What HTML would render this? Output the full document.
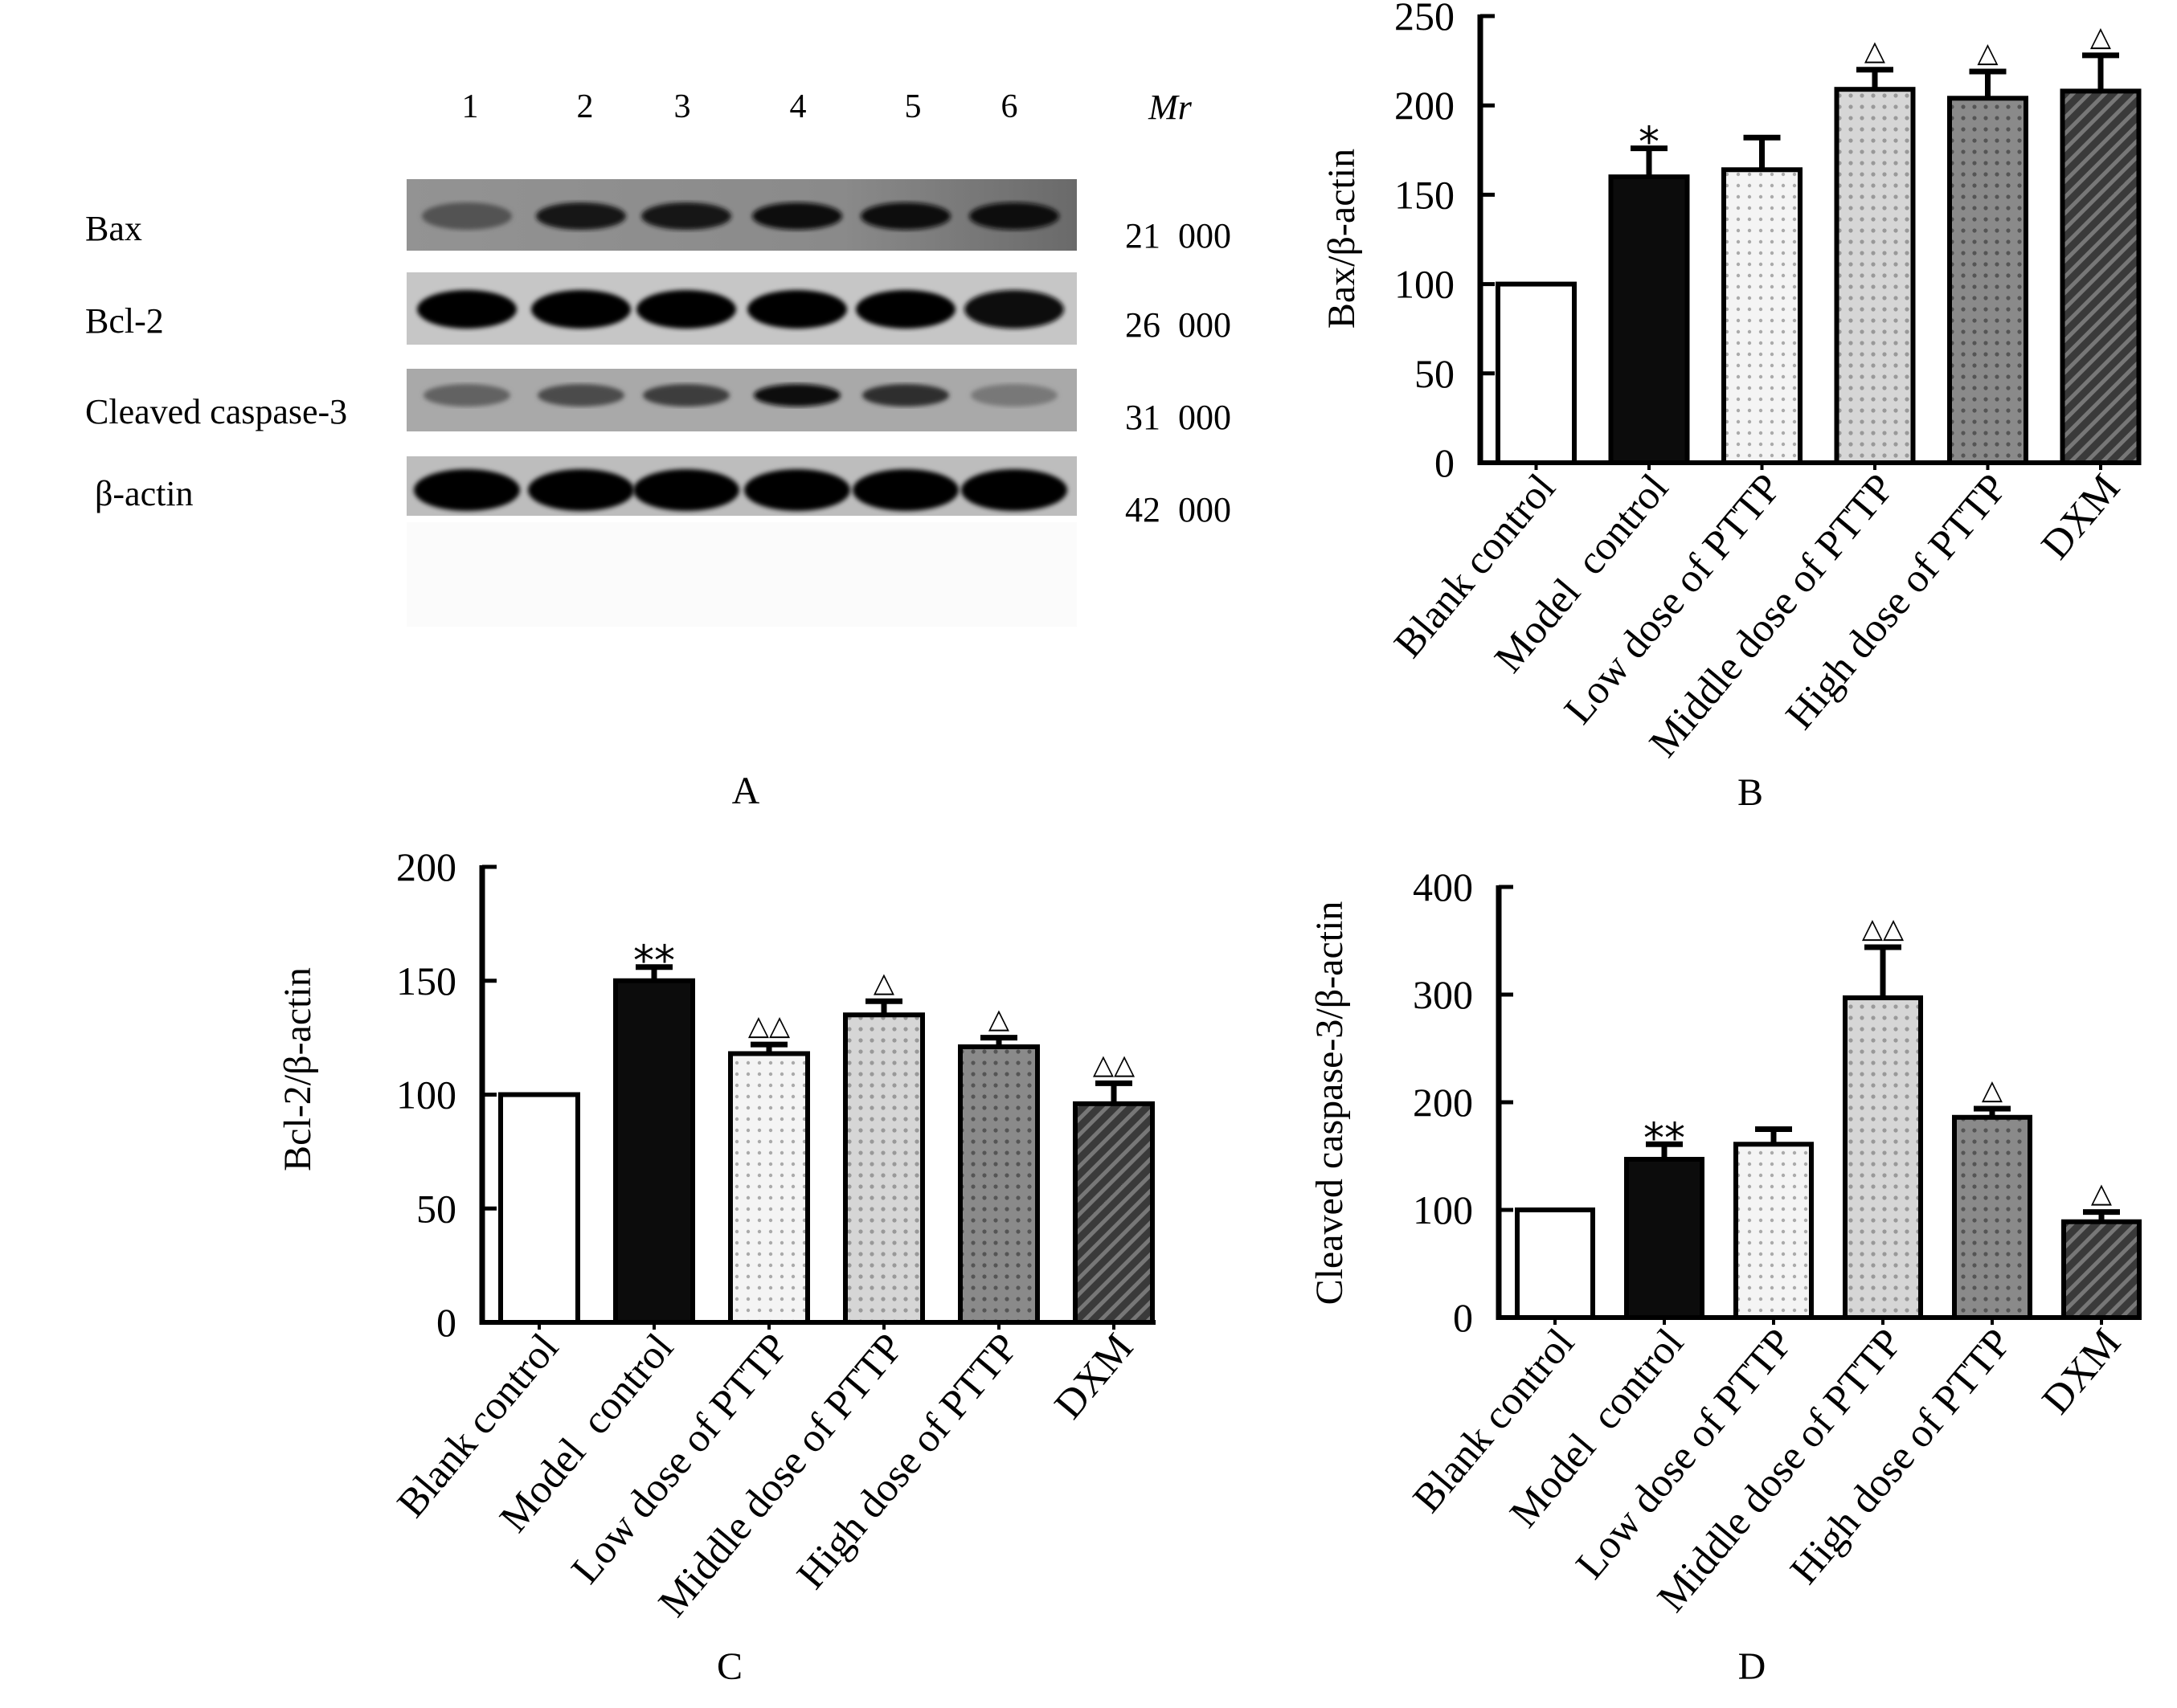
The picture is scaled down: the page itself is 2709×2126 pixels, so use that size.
<!DOCTYPE html>
<html><head><meta charset="utf-8"><style>
html,body{margin:0;padding:0;background:#fff;}
svg{display:block;font-family:"Liberation Serif",serif;}
</style></head><body>
<svg id="fig" width="2709" height="2126" viewBox="0 0 2709 2126" xmlns="http://www.w3.org/2000/svg">
<defs>
<pattern id="pLow" width="14" height="14" patternUnits="userSpaceOnUse"><rect width="14" height="14" fill="#f4f4f4"/><circle cx="7" cy="7" r="2.2" fill="#aaa"/></pattern>
<pattern id="pMid" width="14" height="14" patternUnits="userSpaceOnUse"><rect width="14" height="14" fill="#d6d6d6"/><circle cx="7" cy="7" r="2.6" fill="#999"/></pattern>
<pattern id="pHigh" width="14" height="14" patternUnits="userSpaceOnUse"><rect width="14" height="14" fill="#8a8a8a"/><circle cx="7" cy="7" r="2.6" fill="#555"/></pattern>
<pattern id="pDxm" width="14" height="14" patternUnits="userSpaceOnUse" patternTransform="rotate(45)"><rect width="14" height="14" fill="#3a3a3a"/><rect width="5" height="14" fill="#777"/></pattern>
<linearGradient id="baxBg" x1="0" x2="1" y1="0" y2="0"><stop offset="0" stop-color="#939393"/><stop offset="0.65" stop-color="#8a8a8a"/><stop offset="1" stop-color="#6a6a6a"/></linearGradient>
<filter id="blur2"><feGaussianBlur stdDeviation="3"/></filter>
</defs>
<g id="panelA"></g>
<g id="chartB"></g>
<g id="chartC"></g>
<g id="chartD"></g>
</svg>
<script>
const NS='http://www.w3.org/2000/svg';
const categories=['Blank control','Model  control','Low dose of PTTP','Middle dose of PTTP','High dose of PTTP','DXM'];
const fills=['#fff','#0c0c0c','url(#pLow)','url(#pMid)','url(#pHigh)','url(#pDxm)'];
const baxValues=[100,160,164,209,204,208];
const baxErrTop=[100,176,182,220,219,228];
const baxMarks=['','*','','△','△','△'];
const baxTicks=[0,50,100,150,200,250];
const bclValues=[100,150,118,135,121,96];
const bclErrTop=[100,156,122,141,125,105];
const bclMarks=['','**','△△','△','△','△△'];
const bclTicks=[0,50,100,150,200];
const casValues=[100,147,161,297,186,89];
const casErrTop=[100,161,175,344,194,98];
const casMarks=['','**','','△△','△','△'];
const casTicks=[0,100,200,300,400];
const laneLabels=['1','2','3','4','5','6'];
const mwLabels=['21  000','26  000','31  000','42  000'];
const proteinLabels=['Bax','Bcl-2','Cleaved caspase-3','β-actin'];
const baxBands=[0.45,0.85,0.85,0.9,0.95,0.95];
const bclBands=[1,1,1,1,1,0.9];
const casBands=[0.35,0.5,0.6,0.95,0.7,0.2];
const actBands=[1,1,1,1,1,1];

function mk(tag,attrs,parent,text){const e=document.createElementNS(NS,tag);for(const k in attrs)e.setAttribute(k,attrs[k]);if(text!==undefined)e.textContent=text;parent.appendChild(e);return e;}

function chart(gid,cfg){
  const g=document.getElementById(gid);
  const yMax=cfg.ticks[cfg.ticks.length-1];
  const y=v=>cfg.y0-(v/yMax)*(cfg.y0-cfg.yTop);
  const x=i=>cfg.bar0+i*cfg.pitch;
  cfg.values.forEach((v,i)=>{
    const r=mk('rect',{x:x(i),y:y(v),width:cfg.bw,height:cfg.y0-y(v),fill:fills[i],stroke:'#000','stroke-width':6},g);
    
    
    const cx=x(i)+cfg.bw/2;
    if(cfg.err[i]>v){
      const l=mk('line',{x1:cx,x2:cx,y1:y(v),y2:y(cfg.err[i]),stroke:'#000','stroke-width':7},g);
      
      
      mk('line',{x1:cx-23,x2:cx+23,y1:y(cfg.err[i]),y2:y(cfg.err[i]),stroke:'#000','stroke-width':7},g);
    }
    if(cfg.marks[i]){
      const t=mk('text',{x:cx,y:y(cfg.err[i])-12,'text-anchor':'middle','font-size':cfg.marks[i].includes('*')?52:34,'font-family':'"DejaVu Sans",sans-serif'},g,cfg.marks[i]);
      if(cfg.marks[i].includes('*'))t.setAttribute('y',y(cfg.err[i])+10);
      
      
    }
    mk('line',{x1:cx,x2:cx,y1:cfg.y0,y2:cfg.y0+9,stroke:'#000','stroke-width':4},g);
    const lx=cx+26,ly=cfg.y0+32;
    const t=mk('text',{x:0,y:0,'text-anchor':'end','font-size':51,transform:`translate(${lx},${ly}) rotate(-50)`},g,categories[i]);
    t.setAttribute('style','white-space:pre');
    
    
  });
  const ya=mk('line',{x1:cfg.ax,x2:cfg.ax,y1:cfg.yTop-2,y2:cfg.y0+3,stroke:'#000','stroke-width':7},g);
  
  
  const xa=mk('line',{x1:cfg.ax-3,x2:cfg.xEnd,y1:cfg.y0,y2:cfg.y0,stroke:'#000','stroke-width':6},g);
  
  
  cfg.ticks.forEach(v=>{
    mk('line',{x1:cfg.ax,x2:cfg.ax+18,y1:y(v),y2:y(v),stroke:'#000','stroke-width':5},g);
    const t=mk('text',{x:cfg.ax-32,y:y(v)+17,'text-anchor':'end','font-size':50},g,String(v));
    
    
  });
  const yt=mk('text',{x:0,y:0,'text-anchor':'middle','font-size':48,transform:`translate(${cfg.titleX+17},${cfg.titleY}) rotate(-90)`},g,cfg.title);
  
  
  const pl=mk('text',{x:cfg.letterX,y:cfg.letterY+17,'text-anchor':'middle','font-size':48},g,cfg.letter);
  
  
}

chart('chartB',{values:baxValues,err:baxErrTop,marks:baxMarks,ticks:baxTicks,y0:576,yTop:20,ax:1842,xEnd:2662,bar0:1864,pitch:140.5,bw:95,title:'Bax/β-actin',titleX:1668,titleY:297,letter:'B',letterX:2178,letterY:985});
chart('chartC',{values:bclValues,err:bclErrTop,marks:bclMarks,ticks:bclTicks,y0:1646,yTop:1079,ax:600,xEnd:1438,bar0:623,pitch:143,bw:96,title:'Bcl-2/β-actin',titleX:369,titleY:1331,letter:'C',letterX:908,letterY:2073});
chart('chartD',{values:casValues,err:casErrTop,marks:casMarks,ticks:casTicks,y0:1640,yTop:1104,ax:1865,xEnd:2664,bar0:1888,pitch:136,bw:94,title:'Cleaved caspase-3/β-actin',titleX:1653,titleY:1373,letter:'D',letterX:2180,letterY:2073});

(function(){
  const g=document.getElementById('panelA');
  const laneX=[581,723,854,992,1127,1262];
  const rows=[
    {y1:223,y2:312,bg:'url(#baxBg)',by:269,bh:17,bw:56,bands:baxBands},
    {y1:339,y2:429,bg:'#c6c6c6',by:385,bh:24,bw:62,bands:bclBands},
    {y1:459,y2:537,bg:'#a9a9a9',by:492,bh:14,bw:54,bands:casBands},
    {y1:568,y2:642,bg:'#bdbdbd',by:610,bh:26,bw:66,bands:actBands}
  ];
  mk('rect',{x:506,y:650,width:834,height:130,fill:'#fbfbfb'},g);
  rows.forEach((r,ri)=>{
    const bg=mk('rect',{x:506,y:r.y1,width:834,height:r.y2-r.y1,fill:r.bg},g);
    
    
    r.bands.forEach((b,i)=>{
      const shade=Math.round(150*(1-b));
      const e=mk('ellipse',{cx:laneX[i],cy:r.by,rx:r.bw,ry:r.bh,fill:`rgb(${shade},${shade},${shade})`,filter:'url(#blur2)'},g);
      
      
    });
    const pl=mk('text',{x:ri==3?118:106,y:[283,398,511,613][ri]+16,'font-size':44},g,proteinLabels[ri]);
    
    
    const mw=mk('text',{x:1400,y:[292,403,518,633][ri]+16,'font-size':44,style:'white-space:pre'},g,mwLabels[ri]);
    
    
  });
  const lnX=[585,728,849,993,1136,1256];
  laneLabels.forEach((l,i)=>{
    const t=mk('text',{x:lnX[i],y:146,'text-anchor':'middle','font-size':42},g,l);
    
    
  });
  const mr=mk('text',{x:1456,y:148,'text-anchor':'middle','font-size':44,'font-style':'italic'},g,'Mr');
  
  
  const A=mk('text',{x:928,y:1000,'text-anchor':'middle','font-size':48},g,'A');
  
  
})();
</script>
</body></html>
